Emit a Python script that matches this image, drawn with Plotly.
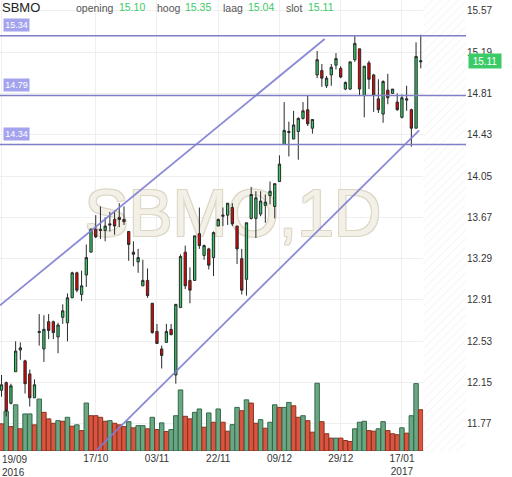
import pandas as pd
import plotly.graph_objects as go

symbol = "SBMO"
interval = "1D"

# trading days (Euronext closed on 26/12)
dates = [d.strftime("%Y-%m-%d") for d in pd.bdate_range("2016-09-19", "2017-01-23")
         if d.strftime("%Y-%m-%d") != "2016-12-26"]

opens = [12.08, 12.15, 11.96, 12.25, 12.45, 12.35, 12.23, 12.01, 12.61, 12.46,
         12.71, 12.71, 12.57, 12.75, 12.70, 12.93, 13.16, 12.96, 13.14, 13.35,
         13.56, 13.56, 13.55, 13.61, 13.65, 13.67, 13.65, 13.54, 13.35, 13.26,
         13.04, 13.09, 12.88, 12.62, 12.46, 12.52, 12.64, 12.22, 12.84, 13.35,
         13.09, 13.09, 13.52, 13.32, 13.38, 13.30, 13.59, 13.68, 13.69, 13.76,
         13.59, 13.29, 13.10, 13.66, 13.66, 13.70, 13.78, 13.87, 13.77, 14.00,
         14.34, 14.45, 14.39, 14.46, 14.58, 14.66, 14.49, 14.98, 15.02, 14.88,
         14.98, 15.07, 15.04, 14.85, 14.85, 15.12, 15.22, 14.79, 15.09, 14.98,
         14.76, 14.62, 14.84, 14.81, 14.73, 14.59, 14.76, 14.66, 14.49, 15.10]
highs = [12.22, 12.16, 12.14, 12.53, 12.52, 12.36, 12.27, 12.18, 12.78, 12.77,
         12.78, 12.72, 12.70, 12.87, 12.97, 13.17, 13.17, 13.18, 13.42, 13.57,
         13.69, 13.77, 13.67, 13.72, 13.73, 13.80, 13.77, 13.54, 13.45, 13.38,
         13.28, 13.20, 12.88, 12.69, 12.49, 12.69, 12.69, 12.87, 13.33, 13.41,
         13.21, 13.50, 13.76, 13.42, 13.39, 13.54, 13.66, 13.76, 13.80, 13.80,
         13.59, 13.38, 13.62, 13.95, 13.91, 13.91, 13.88, 14.00, 13.98, 14.24,
         14.73, 14.55, 14.65, 14.59, 14.73, 14.79, 14.57, 15.20, 15.08, 14.97,
         15.08, 15.18, 15.06, 14.92, 15.10, 15.34, 15.22, 15.06, 15.11, 14.99,
         14.94, 14.93, 14.99, 14.85, 14.81, 14.80, 14.88, 14.67, 15.28, 15.35]
lows = [12.02, 11.84, 11.95, 12.25, 12.36, 12.05, 11.93, 12.01, 12.49, 12.34,
        12.55, 12.55, 12.42, 12.69, 12.53, 12.93, 12.98, 12.90, 13.03, 13.35,
        13.48, 13.47, 13.45, 13.54, 13.51, 13.58, 13.60, 13.27, 13.22, 13.16,
        13.04, 12.93, 12.60, 12.51, 12.28, 12.52, 12.59, 12.14, 12.84, 13.01,
        12.88, 13.09, 13.38, 13.28, 13.19, 13.13, 13.59, 13.59, 13.60, 13.59,
        13.24, 12.96, 12.95, 13.65, 13.48, 13.68, 13.62, 13.79, 13.66, 14.00,
        14.34, 14.23, 14.39, 14.20, 14.57, 14.51, 14.44, 14.95, 14.87, 14.86,
        14.88, 15.03, 14.95, 14.84, 14.84, 15.10, 14.79, 14.59, 14.85, 14.64,
        14.63, 14.54, 14.71, 14.81, 14.65, 14.58, 14.65, 14.32, 14.49, 15.04]
closes = [12.13, 11.89, 12.12, 12.44, 12.47, 12.14, 12.01, 12.13, 12.62, 12.64,
          12.63, 12.61, 12.68, 12.81, 12.93, 13.16, 13.00, 13.04, 13.30, 13.56,
          13.49, 13.55, 13.59, 13.60, 13.59, 13.65, 13.63, 13.42, 13.33, 13.30,
          13.09, 12.95, 12.61, 12.51, 12.40, 12.62, 12.59, 12.87, 13.31, 13.04,
          13.00, 13.50, 13.41, 13.41, 13.23, 13.53, 13.65, 13.69, 13.80, 13.61,
          13.38, 13.00, 13.62, 13.88, 13.85, 13.82, 13.81, 13.91, 13.98, 14.16,
          14.47, 14.46, 14.52, 14.58, 14.65, 14.53, 14.57, 15.12, 14.95, 14.95,
          15.05, 15.13, 14.96, 14.91, 15.10, 15.27, 14.85, 15.06, 14.94, 14.79,
          14.66, 14.92, 14.77, 14.85, 14.66, 14.77, 14.75, 14.49, 15.15, 15.11]

# volume in millions of shares, and bar colour as drawn (1 = green)
volume = [1.37, 2.00, 1.23, 2.33, 1.12, 1.87, 1.87, 1.32, 2.62, 1.95,
          1.62, 1.40, 1.53, 1.50, 1.70, 1.25, 1.32, 1.03, 2.42, 1.78,
          1.78, 1.70, 1.50, 1.53, 1.40, 1.32, 1.23, 1.48, 1.17, 1.28,
          1.28, 1.12, 1.70, 1.08, 1.42, 0.98, 1.08, 1.78, 3.08, 1.75,
          1.62, 1.95, 2.12, 1.20, 1.92, 1.45, 2.12, 1.45, 1.00, 1.33,
          2.20, 2.03, 2.58, 2.42, 1.40, 1.58, 1.15, 1.45, 2.33, 2.20,
          2.20, 2.45, 2.28, 1.70, 1.78, 1.53, 0.95, 3.42, 1.48, 0.87,
          0.65, 0.65, 0.65, 0.53, 0.48, 1.12, 1.45, 1.50, 1.03, 1.00,
          1.12, 1.48, 1.03, 0.87, 0.82, 1.17, 0.90, 1.78, 3.40, 2.08]
volume_up = [0, 1, 0, 1, 0, 1, 1, 0, 1, 0, 0, 0, 1, 0, 1, 0, 1, 0, 1, 0,
             0, 0, 0, 1, 0, 0, 0, 1, 0, 1, 1, 0, 1, 0, 1, 0, 1, 1, 1, 0,
             0, 1, 1, 0, 1, 0, 1, 0, 0, 1, 1, 0, 1, 0, 0, 1, 0, 1, 1, 0,
             1, 1, 0, 0, 1, 0, 0, 1, 0, 0, 0, 1, 0, 0, 0, 1, 1, 1, 0, 0,
             1, 1, 0, 0, 0, 1, 0, 1, 1, 0]

levels = [15.34, 14.79, 14.34]

# drawn trend lines: (bar index, price) at both ends
trend_upper_x = [-0.32, 68.6]
trend_upper_y = [12.86, 15.31]
trend_lower_x = [20.2, 88.66]
trend_lower_y = [11.53, 14.47]

tick_dates = ["2016-09-19", "2016-10-17", "2016-11-03", "2016-11-22",
              "2016-12-09", "2016-12-29", "2017-01-17"]
tick_text = ["19/09<br>2016", "17/10", "03/11", "22/11", "09/12", "29/12", "17/01<br>2017"]
price_ticks = [11.77, 12.15, 12.53, 12.91, 13.29, 13.67, 14.05, 14.43, 14.81, 15.19, 15.57]

header_labels = ["opening", "hoog", "laag", "slot"]
header_values = [opens[-1], highs[-1], lows[-1], closes[-1]]

FONT = "Liberation Sans, Arial, sans-serif"
GREEN = "#3acb67"

x = list(range(len(dates)))
x_range = [-0.32, len(dates) + 8.6]
y_range = [11.521, 15.669]
vol_range = [0, 22.75]

fig = go.Figure()

# watermark, below everything
fig.add_trace(go.Scatter(
    x=[sum(x_range) / 2], y=[sum(vol_range) / 2 + 0.3], mode="text",
    text=[symbol + "," + interval],
    textfont=dict(family=FONT, size=66, color="#f3f0e8",
                  shadow="1px 1px 0 #ddd6c5, -1px -1px 0 #ddd6c5, 1px -1px 0 #ddd6c5, -1px 1px 0 #ddd6c5"),
    hoverinfo="skip", showlegend=False, yaxis="y"))

# hatched future area
hx0 = len(dates) - 0.5
fig.add_trace(go.Scatter(
    x=[hx0, x_range[1], x_range[1], hx0, hx0],
    y=[vol_range[0], vol_range[0], vol_range[1], vol_range[1], vol_range[0]],
    mode="lines", fill="toself", line=dict(width=0),
    fillcolor="white",
    fillpattern=dict(shape="/", fgcolor="#e2e2e2", bgcolor="white", size=6, solidity=0.15),
    hoverinfo="skip", showlegend=False, yaxis="y"))

# volume
fig.add_trace(go.Bar(
    x=x, y=volume, yaxis="y",
    marker=dict(color=["#6aa884" if u else "#d9553f" for u in volume_up],
                line=dict(color=["#35684a" if u else "#8a3122" for u in volume_up], width=1)),
    showlegend=False))

# candles
fig.add_trace(go.Candlestick(
    x=x, open=opens, high=highs, low=lows, close=closes, yaxis="y2",
    increasing=dict(fillcolor="#2fcc66", line=dict(color="#2a2a2a", width=1)),
    decreasing=dict(fillcolor="#e80000", line=dict(color="#2a2a2a", width=1)),
    showlegend=False))

# trend lines
for tx, ty in [(trend_upper_x, trend_upper_y), (trend_lower_x, trend_lower_y)]:
    fig.add_trace(go.Scatter(x=tx, y=ty, mode="lines", yaxis="y2",
                             line=dict(color="rgba(125,125,210,0.9)", width=1.8),
                             hoverinfo="skip", showlegend=False))

shapes = []
annotations = []
for lv in levels:
    shapes.append(dict(type="line", xref="paper", x0=0, x1=1, yref="y2", y0=lv, y1=lv,
                       line=dict(color="#7f7fc6", width=1.5)))
    annotations.append(dict(xref="paper", x=3 / 466, xanchor="left", yref="y2", y=lv,
                            yshift=11, text=f"{lv:.2f}", showarrow=False,
                            bgcolor="#a3a3ee", width=23, height=10, borderpad=1,
                            font=dict(family=FONT, size=9, color="white")))

# last price tag
annotations.append(dict(xref="paper", x=1, xanchor="left", xshift=2, yref="y2", y=closes[-1],
                        text=f"{closes[-1]:.2f}", showarrow=False, bgcolor=GREEN,
                        width=30, height=12, borderpad=1,
                        font=dict(family=FONT, size=10, color="white")))

# header
annotations.append(dict(xref="paper", yref="paper", x=0, y=1 - 8 / 455, xanchor="left",
                        yanchor="middle", text=symbol, showarrow=False,
                        font=dict(family=FONT, size=13, color="#222222")))
label_px = [74, 155, 221, 284]
value_px = [117, 183, 246, 306]
for lab, val, lp, vp in zip(header_labels, header_values, label_px, value_px):
    annotations.append(dict(xref="paper", yref="paper", x=lp / 466, y=1 - 8 / 455,
                            xanchor="left", yanchor="middle", text=lab, showarrow=False,
                            font=dict(family=FONT, size=10.5, color="#555555")))
    annotations.append(dict(xref="paper", yref="paper", x=vp / 466, y=1 - 7 / 455,
                            xanchor="left", yanchor="middle", text=f"{val:.2f}", showarrow=False,
                            font=dict(family=FONT, size=10.5, color=GREEN)))

# first date label sits flush left
annotations.append(dict(xref="paper", yref="paper", x=0, y=0, xanchor="left", yanchor="top",
                        yshift=-1, align="left", text=tick_text[0], showarrow=False,
                        font=dict(family=FONT, size=10, color="#333333")))

fig.update_layout(
    width=512, height=477,
    margin=dict(l=0, r=46, t=0, b=22),
    paper_bgcolor="white", plot_bgcolor="white",
    showlegend=False, bargap=0.05,
    shapes=shapes, annotations=annotations,
    xaxis=dict(range=x_range, tickvals=[dates.index(d) for d in tick_dates],
               ticktext=[""] + tick_text[1:], showgrid=True, gridcolor="#efefef",
               zeroline=False, showline=False, ticks="",
               tickfont=dict(family=FONT, size=10, color="#333333"),
               rangeslider=dict(visible=False)),
    yaxis=dict(range=vol_range, visible=False, showgrid=False, fixedrange=True),
    yaxis2=dict(range=y_range, overlaying="y", side="right", anchor="x",
                tickvals=price_ticks, ticktext=[f"{t:.2f}" for t in price_ticks],
                showgrid=True, gridcolor="#efefef", zeroline=False, ticks="",
                tickfont=dict(family=FONT, size=10, color="#333333")),
)

# the page body has a default 8px margin; drop it so the chart sits at the corner
fig.write_html("out.html", config={"displayModeBar": False},
               post_script="document.body.style.margin='0px';")
